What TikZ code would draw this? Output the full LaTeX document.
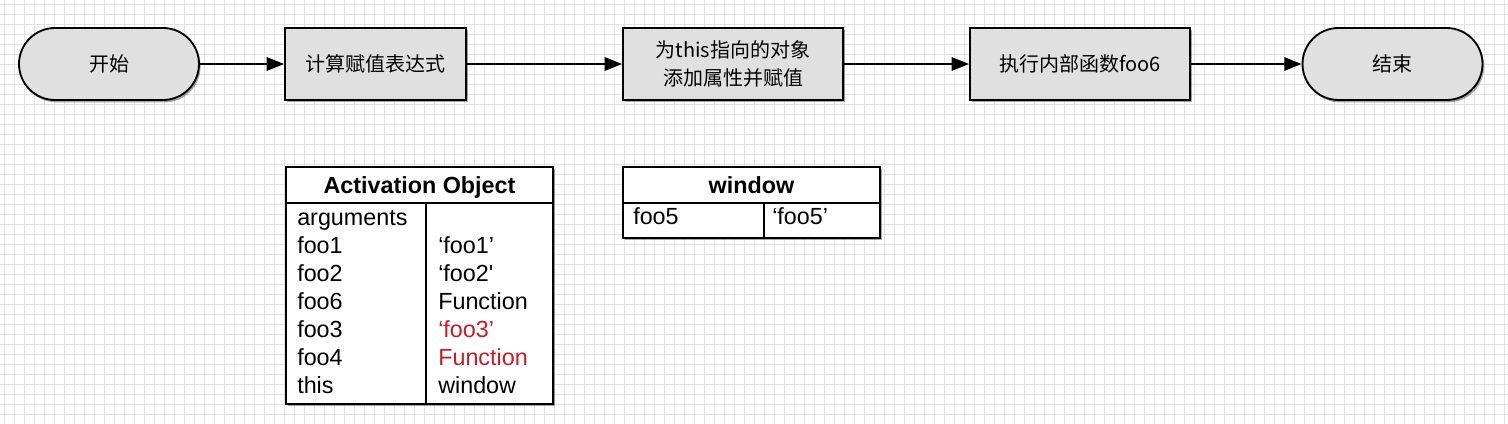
\documentclass[tikz,border=0pt]{standalone}
\usepackage{fontspec}
\newfontfamily\lsans{Liberation Sans}
\newfontfamily\cjk{Noto Sans CJK SC}
\usetikzlibrary{arrows.meta,shadows}
\definecolor{gridc}{RGB}{226,226,226}
\definecolor{boxfill}{RGB}{224,224,224}
\definecolor{redtxt}{RGB}{200,28,38}
\tikzset{
  shad/.style={drop shadow={shadow xshift=1.2pt,shadow yshift=-1.8pt,opacity=0.35,fill=black}},
  procbox/.style={draw=black,line width=1.4pt,fill=boxfill,shad,minimum width=#1*0.75pt,minimum height=54pt,inner sep=0pt,align=center,font=\cjk\fontsize{15pt}{21pt}\selectfont},
  pill/.style={procbox=180,rounded corners=27pt},
  flow/.style={line width=1.4pt,-{Triangle[length=13pt,width=10pt]}},
  tabline/.style={line width=1.4pt},
  cell/.style={anchor=base west,inner sep=0pt,font=\lsans\fontsize{17.5pt}{21pt}\selectfont},
  head/.style={anchor=base,inner sep=0pt,font=\lsans\bfseries\fontsize{17.5pt}{21pt}\selectfont},
}
\begin{document}
\begin{tikzpicture}[x=0.75pt,y=-0.75pt]
\fill[white] (0,0) rectangle (1508,424);
\useasboundingbox (0,0) rectangle (1508,424);
\foreach \i in {0,10,...,1500} \draw[gridc,line width=0.6pt] (\i+4,0) -- (\i+4,424);
\foreach \j in {0,10,...,420} \draw[gridc,line width=0.6pt] (0,\j+4) -- (1508,\j+4);
% flow nodes
\node[pill] (start) at (109,64) {开始};
\node[procbox=181] (calc) at (375.5,64) {计算赋值表达式};
\node[procbox=220] (attr) at (733,64) {为this指向的对象\\添加属性并赋值};
\node[procbox=220] (exec) at (1080,64) {执行内部函数foo6};
\node[pill] (end) at (1392.5,64) {结束};
\draw[flow] (start) -- (calc);
\draw[flow] (calc) -- (attr);
\draw[flow] (attr) -- (exec);
\draw[flow] (exec) -- (end);
% Activation Object table
\filldraw[tabline,fill=white,shad] (286,167) rectangle (553,404);
\draw[tabline] (286,203) -- (553,203);
\draw[tabline] (426,203) -- (426,404);
\node[head] (aohead) at (419.5,193) {Activation Object};
\node[cell] (k1) at (297,225) {arguments};
\node[cell] (k2) at (297,253) {foo1};
\node[cell] (v2) at (438,253) {‘foo1’};
\node[cell] (k3) at (297,281) {foo2};
\node[cell] (v3) at (438,281) {‘foo2'};
\node[cell] (k4) at (297,309) {foo6};
\node[cell] (v4) at (438,309) {Function};
\node[cell] (k5) at (297,337) {foo3};
\node[cell,text=redtxt] (v5) at (438,337) {‘foo3’};
\node[cell] (k6) at (297,365) {foo4};
\node[cell,text=redtxt] (v6) at (438,365) {Function};
\node[cell] (k7) at (297,393) {this};
\node[cell] (v7) at (438,393) {window};
% window table
\filldraw[tabline,fill=white,shad] (623,167) rectangle (880,238);
\draw[tabline] (623,203) -- (880,203);
\draw[tabline] (764,203) -- (764,238);
\node[head] (whead) at (751.5,193) {window};
\node[cell] (wk) at (633,224) {foo5};
\node[cell] (wv) at (772,224) {‘foo5’};
\end{tikzpicture}
\end{document}
